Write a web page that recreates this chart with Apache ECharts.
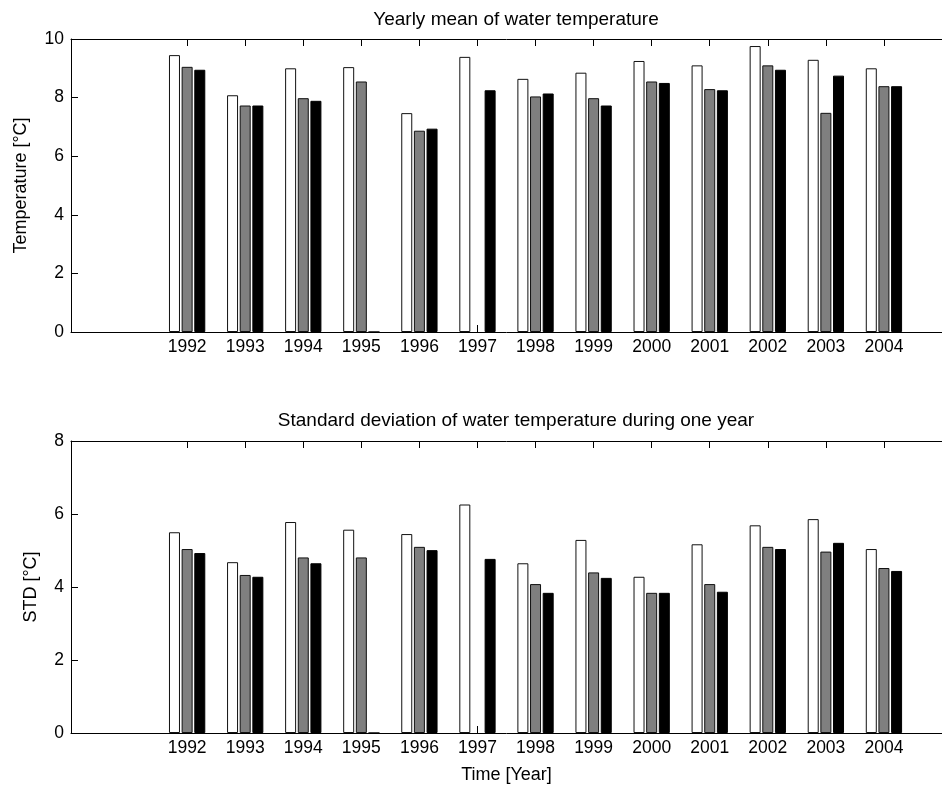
<!DOCTYPE html>
<html>
<head>
<meta charset="utf-8">
<script src="https://cdn.jsdelivr.net/npm/echarts@6/dist/echarts.min.js"></script>
<style>
  html, body { margin: 0; padding: 0; background: #fff; }
  #chart { width: 942px; height: 786px; }
</style>
</head>
<body>
<div id="chart"></div>
<script>
// Years shown on the time axis
const years = [1992, 1993, 1994, 1995, 1996, 1997, 1998, 1999, 2000, 2001, 2002, 2003, 2004];

// Yearly mean water temperature [°C] for the three series (white, grey, black bars)
const meanWhite = [9.45, 8.08, 9.00, 9.04, 7.47, 9.39, 8.64, 8.85, 9.25, 9.10, 9.76, 9.29, 9.00];
const meanGrey  = [9.05, 7.73, 7.98, 8.55, 6.87, null, 8.04, 7.98, 8.55, 8.29, 9.10, 7.48, 8.39];
const meanBlack = [8.95, 7.73, 7.89, 0,    6.94, 8.25, 8.14, 7.73, 8.50, 8.25, 8.95, 8.75, 8.39];

// Standard deviation of water temperature within each year [°C]
const stdWhite = [5.50, 4.68, 5.78, 5.57, 5.45, 6.26, 4.65, 5.29, 4.28, 5.17, 5.69, 5.86, 5.04];
const stdGrey  = [5.04, 4.33, 4.81, 4.81, 5.10, null, 4.08, 4.40, 3.84, 4.08, 5.10, 4.97, 4.52];
const stdBlack = [4.93, 4.28, 4.65, 0,    5.01, 4.77, 3.84, 4.25, 3.84, 3.87, 5.04, 5.21, 4.44];

// Axis ranges and tick values
const timeRange = [1990, 2005];
const meanTicks = [0, 2, 4, 6, 8, 10];
const stdTicks = [0, 2, 4, 6, 8];

const FONT = 'Liberation Sans, Arial, Helvetica, sans-serif';
const TEXT = '#000';

function pairs(vals) {
  return years.map((y, i) => [y, vals[i]]);
}

function timeAxis(gridIndex, position, showLabels, name) {
  return {
    type: 'value',
    gridIndex: gridIndex,
    position: position,
    min: timeRange[0],
    max: timeRange[1],
    interval: 1,
    name: name || '',
    nameLocation: 'middle',
    nameGap: 33,
    nameTextStyle: { fontFamily: FONT, fontSize: 18, color: TEXT },
    axisLine: { show: true, onZero: false, lineStyle: { color: '#000', width: 1 } },
    axisTick: { show: true, inside: true, length: 7, customValues: years, lineStyle: { color: '#000', width: 1 } },
    axisLabel: {
      show: showLabels,
      customValues: years,
      margin: 6,
      fontFamily: FONT, fontSize: 17.5, color: TEXT,
      formatter: v => String(v)
    },
    splitLine: { show: false }
  };
}

function valueAxis(gridIndex, ticks, name, nameGap) {
  return {
    type: 'value',
    gridIndex: gridIndex,
    min: ticks[0],
    max: ticks[ticks.length - 1],
    interval: ticks[1] - ticks[0],
    name: name,
    nameLocation: 'middle',
    nameGap: nameGap,
    nameTextStyle: { fontFamily: FONT, fontSize: 18, color: TEXT },
    axisLine: { show: true, lineStyle: { color: '#000', width: 1 } },
    axisTick: { show: true, inside: true, length: 7, lineStyle: { color: '#000', width: 1 } },
    axisLabel: { margin: 7, fontFamily: FONT, fontSize: 17.5, color: TEXT },
    splitLine: { show: false }
  };
}

const barStyles = [
  { color: '#ffffff', borderColor: '#111', borderWidth: 1 },
  { color: '#7f7f7f', borderColor: '#111', borderWidth: 1 },
  { color: '#000000', borderColor: '#000', borderWidth: 1 }
];

function barSeries(name, vals, xIdx, yIdx, styleIdx) {
  return {
    name: name,
    type: 'bar',
    xAxisIndex: xIdx,
    yAxisIndex: yIdx,
    data: pairs(vals),
    barWidth: 11,
    barGap: '15%',
    itemStyle: barStyles[styleIdx],
    emphasis: { disabled: true },
    animation: false
  };
}

const chart = echarts.init(document.getElementById('chart'), null, { renderer: 'canvas' });

chart.setOption({
  backgroundColor: '#fff',
  animation: false,
  title: [
    {
      text: 'Yearly mean of water temperature',
      left: 511, top: 5, textAlign: 'center',
      textStyle: { fontFamily: FONT, fontSize: 19, fontWeight: 'normal', color: TEXT }
    },
    {
      text: 'Standard deviation of water temperature during one year',
      left: 511, top: 406, textAlign: 'center',
      textStyle: { fontFamily: FONT, fontSize: 19, fontWeight: 'normal', color: TEXT }
    }
  ],
  grid: [
    { left: 71, top: 39, width: 880, height: 293 },
    { left: 71, top: 441, width: 880, height: 292 }
  ],
  xAxis: [
    timeAxis(0, 'bottom', true),
    timeAxis(0, 'top', false),
    timeAxis(1, 'bottom', true, 'Time [Year]'),
    timeAxis(1, 'top', false)
  ],
  yAxis: [
    valueAxis(0, meanTicks, 'Temperature [°C]', 41),
    valueAxis(1, stdTicks, 'STD [°C]', 31)
  ],
  series: [
    barSeries('mean-1', meanWhite, 0, 0, 0),
    barSeries('mean-2', meanGrey, 0, 0, 1),
    barSeries('mean-3', meanBlack, 0, 0, 2),
    barSeries('std-1', stdWhite, 2, 1, 0),
    barSeries('std-2', stdGrey, 2, 1, 1),
    barSeries('std-3', stdBlack, 2, 1, 2)
  ]
});
</script>
</body>
</html>
